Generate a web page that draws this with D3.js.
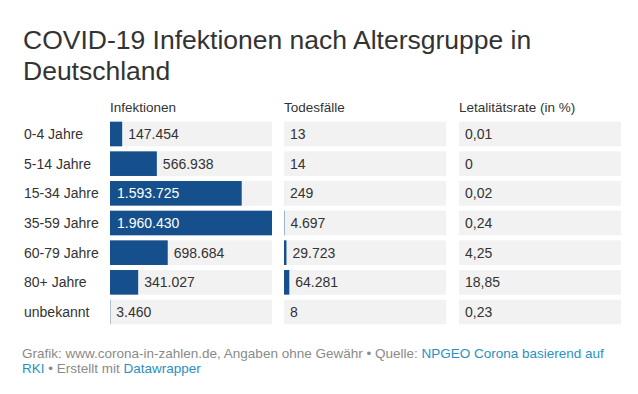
<!DOCTYPE html>
<html>
<head>
<meta charset="utf-8">
<script src="https://cdn.jsdelivr.net/npm/d3@7"></script>
<style>
  body { margin: 0; background: #fff; }
  svg { font-family: "Liberation Sans", Arial, sans-serif; }
</style>
</head>
<body>
<svg id="chart"></svg>
<script>
const w = 638;
const h = 394;

// data
const categories = ["0-4 Jahre", "5-14 Jahre", "15-34 Jahre", "35-59 Jahre", "60-79 Jahre", "80+ Jahre", "unbekannt"];
const infektionen = [147454, 566938, 1593725, 1960430, 698684, 341027, 3460];
const todesfaelle = [13, 14, 249, 4697, 29723, 64281, 8];
const letalitaet = [0.01, 0, 0.02, 0.24, 4.25, 18.85, 0.23];
const columnHeaders = ["Infektionen", "Todesfälle", "Letalitätsrate (in %)"];

const de = d3.formatLocale({decimal: ",", thousands: ".", grouping: [3], currency: ["", " €"]});
const fmtInt = de.format(",d");
const fmtDec = de.format(".2~f");

const columns = [
  {name: columnHeaders[0], values: infektionen, fmt: fmtInt, x0: 110},
  {name: columnHeaders[1], values: todesfaelle, fmt: fmtInt, x0: 284},
  {name: columnHeaders[2], values: letalitaet, fmt: fmtDec, x0: 459}
];
const colWidth = 162;

const svg = d3.select('#chart')
    .attr('width', w)
    .attr('height', h);

// title
svg.append('text')
    .attr('x', 23)
    .attr('y', 49)
    .attr('font-size', 26.5)
    .attr('fill', '#333')
    .text('COVID-19 Infektionen nach Altersgruppe in');
svg.append('text')
    .attr('x', 23)
    .attr('y', 79.5)
    .attr('font-size', 26.5)
    .attr('fill', '#333')
    .text('Deutschland');

const yScale = d3.scaleBand()
    .domain(categories)
    .range([120.5, 325.5])
    .paddingInner(0.17)
    .paddingOuter(0.04);

// shared scale for all bar columns
const xScale = d3.scaleLinear()
    .domain([0, d3.max(infektionen)])
    .range([0, colWidth]);

// row labels
svg.selectAll('.row-label')
    .data(categories)
    .enter()
    .append('text')
    .attr('class', 'row-label')
    .attr('x', 24)
    .attr('y', (d) => yScale(d) + yScale.bandwidth() / 2)
    .attr('dy', '0.35em')
    .attr('font-size', 14)
    .attr('fill', '#333')
    .text((d) => d);

columns.forEach(function(col) {
  const g = svg.append('g').attr('transform', 'translate(' + col.x0 + ',0)');

  g.append('text')
      .attr('x', 0)
      .attr('y', 107)
      .attr('dy', '0.35em')
      .attr('font-size', 13.5)
      .attr('fill', '#333')
      .text(col.name);

  const rows = categories.map((c, i) => ({cat: c, v: col.values[i]}));

  g.selectAll('.bg')
      .data(rows)
      .enter()
      .append('rect')
      .attr('x', 0)
      .attr('y', (d) => yScale(d.cat))
      .attr('width', colWidth)
      .attr('height', yScale.bandwidth())
      .attr('fill', '#f2f2f2');

  g.selectAll('.bar')
      .data(rows)
      .enter()
      .append('rect')
      .attr('class', 'bar')
      .attr('x', 0)
      .attr('y', (d) => yScale(d.cat))
      .attr('width', (d) => xScale(d.v))
      .attr('height', yScale.bandwidth())
      .attr('fill', '#15508c');

  g.selectAll('.val')
      .data(rows)
      .enter()
      .append('text')
      .attr('class', 'val')
      .attr('x', (d) => xScale(d.v) > 80 ? 7 : xScale(d.v) + 6)
      .attr('y', (d) => yScale(d.cat) + yScale.bandwidth() / 2)
      .attr('dy', '0.35em')
      .attr('font-size', 14)
      .attr('fill', (d) => xScale(d.v) > 80 ? '#fff' : '#333')
      .text((d) => col.fmt(d.v));
});

// footer
const foot = svg.append('text')
    .attr('x', 22)
    .attr('y', 357.5)
    .attr('font-size', 13.5)
    .attr('fill', '#8a8a8a');
foot.append('tspan').text('Grafik: www.corona-in-zahlen.de, Angaben ohne Gewähr • Quelle: ');
foot.append('tspan').attr('fill', '#2a91bf').text('NPGEO Corona basierend auf');

const foot2 = svg.append('text')
    .attr('x', 22)
    .attr('y', 372.5)
    .attr('font-size', 13.5)
    .attr('fill', '#8a8a8a');
foot2.append('tspan').attr('fill', '#2a91bf').text('RKI');
foot2.append('tspan').text(' • Erstellt mit ');
foot2.append('tspan').attr('fill', '#2a91bf').text('Datawrapper');
</script>
</body>
</html>
